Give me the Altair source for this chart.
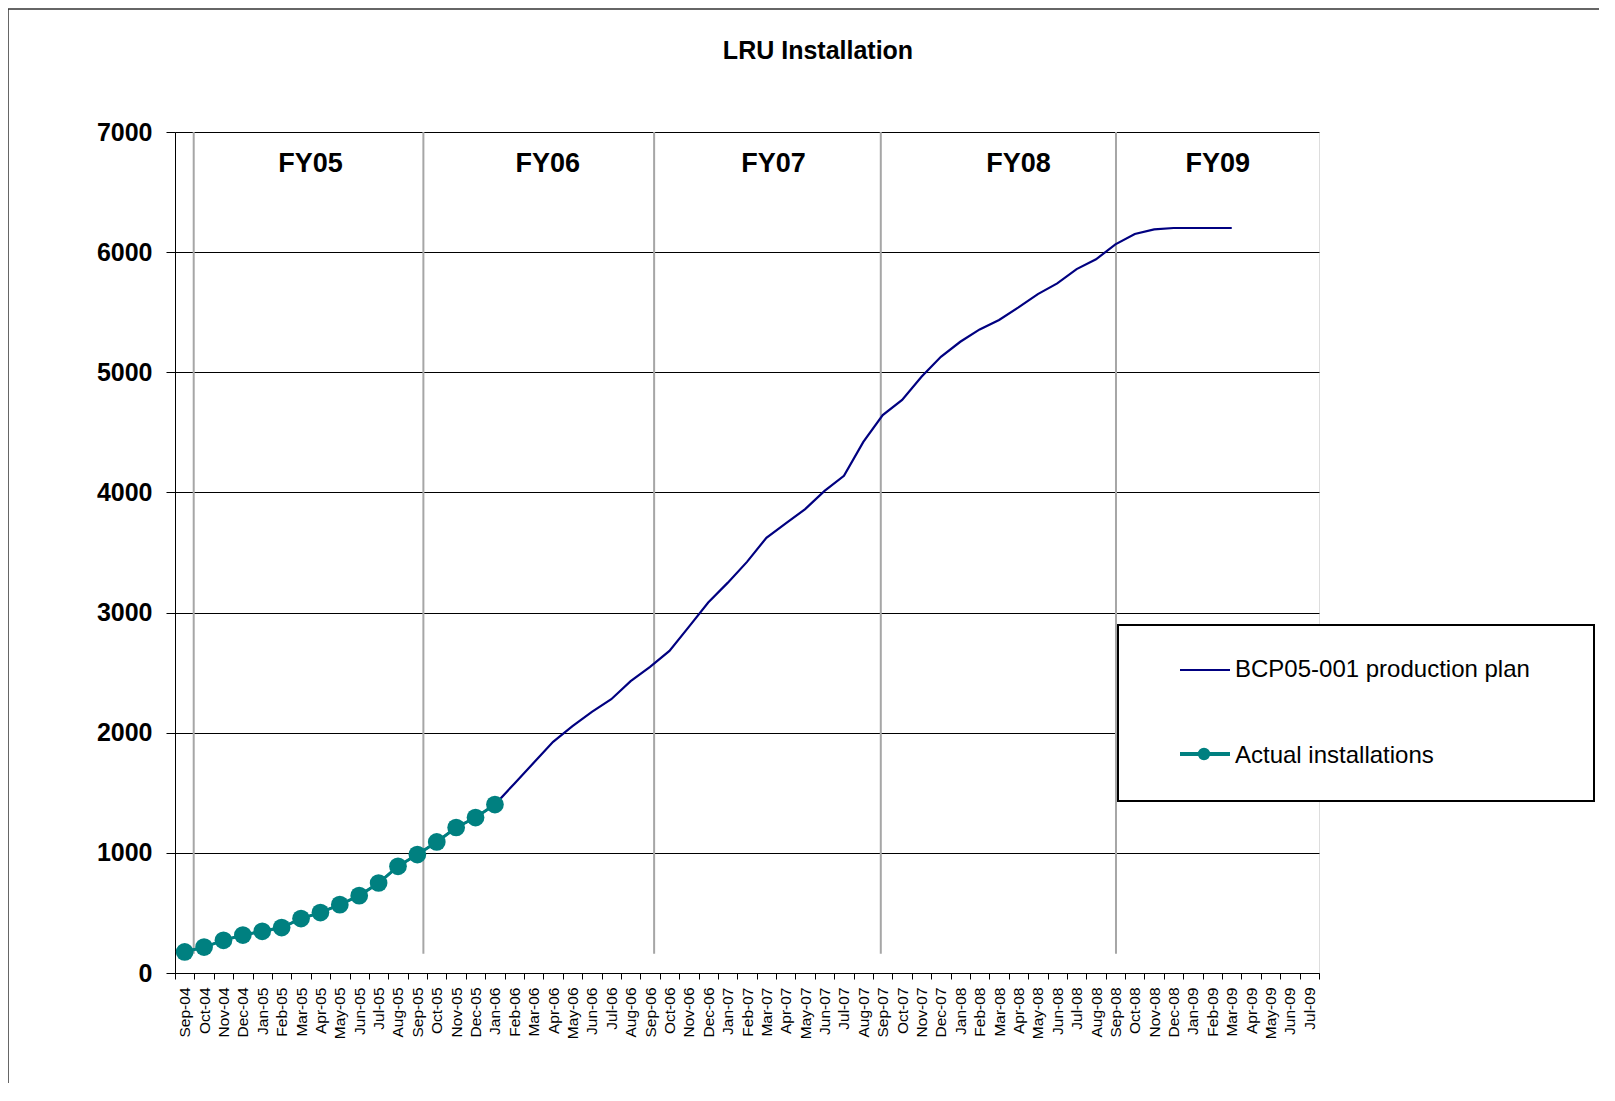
import altair as alt
import pandas as pd

# ---------------- data ----------------
months = ["Sep-04", "Oct-04", "Nov-04", "Dec-04", "Jan-05", "Feb-05", "Mar-05", "Apr-05",
          "May-05", "Jun-05", "Jul-05", "Aug-05", "Sep-05", "Oct-05", "Nov-05", "Dec-05",
          "Jan-06", "Feb-06", "Mar-06", "Apr-06", "May-06", "Jun-06", "Jul-06", "Aug-06",
          "Sep-06", "Oct-06", "Nov-06", "Dec-06", "Jan-07", "Feb-07", "Mar-07", "Apr-07",
          "May-07", "Jun-07", "Jul-07", "Aug-07", "Sep-07", "Oct-07", "Nov-07", "Dec-07",
          "Jan-08", "Feb-08", "Mar-08", "Apr-08", "May-08", "Jun-08", "Jul-08", "Aug-08",
          "Sep-08", "Oct-08", "Nov-08", "Dec-08", "Jan-09", "Feb-09", "Mar-09", "Apr-09",
          "May-09", "Jun-09", "Jul-09"]

plan = [175, 216, 272, 316, 347, 378, 453, 503, 569, 644, 749, 888, 986, 1091, 1211, 1294,
        1402, 1576, 1750, 1924, 2054, 2173, 2279, 2429, 2548, 2681, 2881, 3084, 3247, 3422,
        3622, 3742, 3861, 4013, 4138, 4421, 4644, 4770, 4963, 5129, 5254, 5357, 5435, 5540,
        5651, 5740, 5859, 5940, 6065, 6151, 6190, 6201, 6201, 6201, 6201]

actual = [175, 216, 272, 316, 347, 378, 453, 503, 569, 644, 749, 888, 986, 1091, 1211,
          1294, 1402]

fy_labels = ["FY05", "FY06", "FY07", "FY08", "FY09"]
fy_label_pos = [6.99, 19.22, 30.87, 43.5, 53.78]      # in months from Sep-04
fy_line_pos = [0.965, 12.81, 24.71, 36.40, 48.53]
y_ticks = [0, 1000, 2000, 3000, 4000, 5000, 6000, 7000]
legend_labels = ["BCP05-001 production plan", "Actual installations"]
title_text = "LRU Installation"

PLAN_COLOR = "#000080"
ACTUAL_COLOR = "#008080"
FONT = "Liberation Sans"

W, H = 1144, 841

plan_df = pd.DataFrame({"m": [i + 0.5 for i in range(len(plan))], "v": plan})
act_df = pd.DataFrame({"m": [i + 0.5 for i in range(len(actual))], "v": actual})
fyl_df = pd.DataFrame({"pos": fy_line_pos})
fyt_df = pd.DataFrame({"pos": fy_label_pos, "label": fy_labels})
one = pd.DataFrame({"a": [0]})

month_js = "[" + ",".join("'" + m + "'" for m in months) + "]"
n = len(months)

xscale = alt.Scale(domain=[0, n], nice=False, zero=False)
yscale = alt.Scale(domain=[0, 7000], nice=False, zero=True)

x_axis = alt.Axis(
    values=list(range(n + 1)),
    labelExpr=f"datum.value < {n} ? {month_js}[datum.value] : ''",
    labelAngle=-90, labelAlign="right", labelBaseline="middle",
    labelOffset=W / n / 2, labelPadding=8, labelFontSize=15.5, labelFont=FONT,
    labelColor="black", labelOverlap=False, labelBound=False, labelFlush=False,
    tickSize=6, tickColor="black", domainColor="black", domainWidth=1,
    grid=False, title=None,
)
y_axis = alt.Axis(
    values=y_ticks, format="d", grid=True, gridColor="#000000", gridWidth=1,
    tickSize=9, tickColor="black", domainColor="black", domainWidth=1,
    labelFontSize=25, labelFontWeight="bold", labelFont=FONT, labelColor="black",
    labelPadding=14, title=None,
)


def X(field):
    return alt.X(field, scale=xscale, axis=x_axis)


def Y(field):
    return alt.Y(field, scale=yscale, axis=y_axis)


fy_rules = alt.Chart(fyl_df).mark_rule(color="#a6a6a6", strokeWidth=2).encode(
    x=X("pos:Q"), y=alt.datum(160), y2=alt.datum(7000)
)

plan_line = alt.Chart(plan_df).mark_line(color=PLAN_COLOR, strokeWidth=2.2).encode(
    x=X("m:Q"), y=Y("v:Q")
)
act_line = alt.Chart(act_df).mark_line(color=ACTUAL_COLOR, strokeWidth=3).encode(
    x=X("m:Q"), y=Y("v:Q")
)
act_pts = alt.Chart(act_df).mark_circle(color=ACTUAL_COLOR, size=314, opacity=1).encode(
    x=X("m:Q"), y=Y("v:Q")
)

fy_text = alt.Chart(fyt_df).mark_text(
    fontSize=27, fontWeight="bold", font=FONT, color="black",
    align="center", baseline="alphabetic"
).encode(x=X("pos:Q"), y=alt.value(40), text="label:N")

# ---------------- legend (drawn as a boxed key) ----------------
leg_box = alt.Chart(one).mark_rect(fill="white", stroke="black", strokeWidth=2).encode(
    x=alt.value(943), x2=alt.value(1419), y=alt.value(493), y2=alt.value(669)
)
leg_l1 = alt.Chart(one).mark_rule(color=PLAN_COLOR, strokeWidth=2.2).encode(
    x=alt.value(1005), x2=alt.value(1055), y=alt.value(538)
)
leg_l2 = alt.Chart(one).mark_rule(color=ACTUAL_COLOR, strokeWidth=4).encode(
    x=alt.value(1005), x2=alt.value(1055), y=alt.value(622)
)
leg_dot = alt.Chart(one).mark_circle(color=ACTUAL_COLOR, size=154, opacity=1).encode(
    x=alt.value(1029), y=alt.value(622)
)
leg_t1 = alt.Chart(one).mark_text(
    text=legend_labels[0], fontSize=24, font=FONT, color="black",
    align="left", baseline="alphabetic"
).encode(x=alt.value(1060), y=alt.value(545))
leg_t2 = alt.Chart(one).mark_text(
    text=legend_labels[1], fontSize=24, font=FONT, color="black",
    align="left", baseline="alphabetic"
).encode(x=alt.value(1060), y=alt.value(631))

title = alt.Chart(one).mark_text(
    text=title_text, fontSize=25, fontWeight="bold", font=FONT, color="black",
    align="center", baseline="alphabetic"
).encode(x=alt.value(643), y=alt.value(-73))

frame_left = alt.Chart(one).mark_rule(color="#333333", strokeWidth=1.5).encode(
    x=alt.value(-167), y=alt.value(-123), y2=alt.value(960)
)
frame_top = alt.Chart(one).mark_rule(color="#333333", strokeWidth=1.5).encode(
    x=alt.value(-167), x2=alt.value(1430), y=alt.value(-123)
)

chart = alt.layer(
    fy_rules, plan_line, act_line, act_pts, fy_text,
    leg_box, leg_l1, leg_l2, leg_dot, leg_t1, leg_t2,
    title, frame_left, frame_top,
).properties(
    width=W, height=H,
    autosize=alt.AutoSizeParams(type="none"),
    padding={"left": 167, "top": 124, "right": 280, "bottom": 110},
    background="white",
).configure_view(
    stroke="#a0a0a0", strokeWidth=1.5
).configure(font=FONT)

chart.save("out.html", embed_options={"renderer": "svg", "actions": False})
